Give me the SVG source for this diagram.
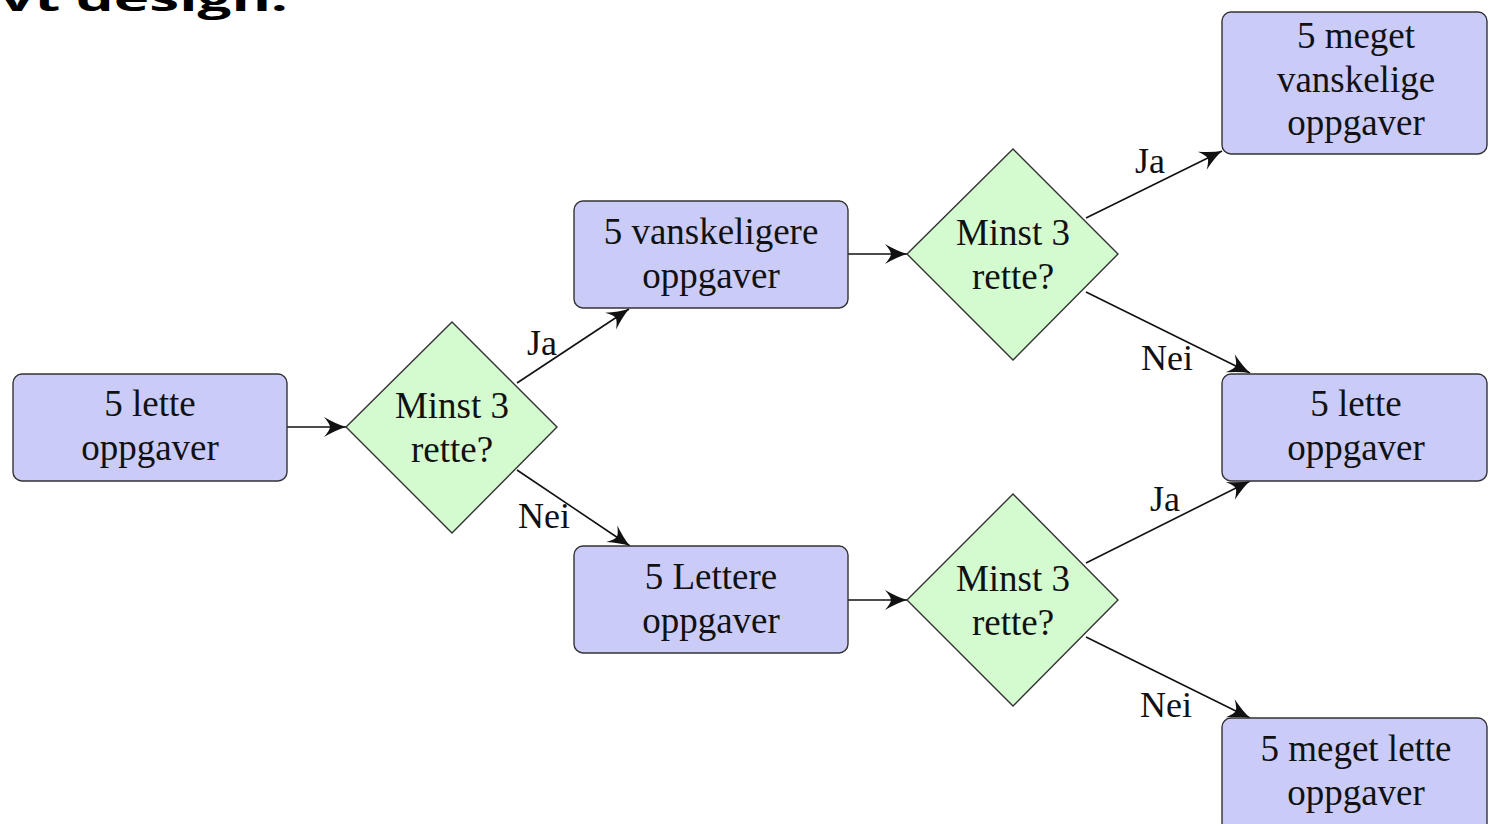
<svg xmlns="http://www.w3.org/2000/svg" width="1488" height="824" viewBox="0 0 1488 824">
<style>
.box{fill:#cbcbf8;stroke:#333;stroke-width:1.4}
.dia{fill:#d4fad0;stroke:#333;stroke-width:1.4}
.t{font-family:"Liberation Serif","Times New Roman",serif;font-size:37px;fill:#111;text-anchor:middle}
.lbl{font-family:"Liberation Serif","Times New Roman",serif;font-size:36px;fill:#111}
.edge{fill:none;stroke:#111;stroke-width:1.6;marker-end:url(#arr)}
.title{font-family:"Open Sans","Liberation Sans",sans-serif;font-weight:700;fill:#000}
</style>
<defs>
<marker id="arr" viewBox="-23 -11 25 22" refX="0" refY="0" markerWidth="25" markerHeight="22" markerUnits="userSpaceOnUse" orient="auto">
<path d="M0,0 Q-10,-3 -22,-10 Q-16,-3 -16,0 Q-16,3 -22,10 Q-10,3 0,0 Z" fill="#111"/>
</marker>
</defs>
<rect width="1488" height="824" fill="#fff"/>
<text class="title" x="0" y="11" font-size="36" textLength="288" lengthAdjust="spacingAndGlyphs">vt design.</text>

<g id="connectors">
<path class="edge" d="M287,427 L346,427"/>
<path class="edge" d="M517,383 L629,309"/>
<path class="edge" d="M517,470 L630,546"/>
<path class="edge" d="M848,254 L907,254"/>
<path class="edge" d="M848,600 L907,600"/>
<path class="edge" d="M1086,218 L1222,151"/>
<path class="edge" d="M1086,292 L1250,373"/>
<path class="edge" d="M1086,563 L1250,481"/>
<path class="edge" d="M1086,637 L1250,718"/>
<text class="lbl" x="527" y="355">Ja</text>
<text class="lbl" x="518" y="528">Nei</text>
<text class="lbl" x="1135" y="173">Ja</text>
<text class="lbl" x="1141" y="370">Nei</text>
<text class="lbl" x="1150" y="511">Ja</text>
<text class="lbl" x="1140" y="717">Nei</text>
</g>

<g id="start">
<rect class="box" x="13" y="374" width="274" height="107" rx="9"/>
<text class="t" x="150" y="416">5 lette</text>
<text class="t" x="150" y="460">oppgaver</text>
</g>
<g id="q1">
<polygon class="dia" points="452,322 557,427 452,533 346,427"/>
<text class="t" x="452" y="418">Minst 3</text>
<text class="t" x="452" y="462">rette?</text>
</g>
<g id="harder">
<rect class="box" x="574" y="201" width="274" height="107" rx="9"/>
<text class="t" x="711" y="244">5 vanskeligere</text>
<text class="t" x="711" y="288">oppgaver</text>
</g>
<g id="easier">
<rect class="box" x="574" y="546" width="274" height="107" rx="9"/>
<text class="t" x="711" y="589">5 Lettere</text>
<text class="t" x="711" y="633">oppgaver</text>
</g>
<g id="q2">
<polygon class="dia" points="1013,149 1118,254 1013,360 907,254"/>
<text class="t" x="1013" y="245">Minst 3</text>
<text class="t" x="1013" y="289">rette?</text>
</g>
<g id="q3">
<polygon class="dia" points="1013,494 1118,600 1013,706 907,600"/>
<text class="t" x="1013" y="591">Minst 3</text>
<text class="t" x="1013" y="635">rette?</text>
</g>
<g id="veryhard">
<rect class="box" x="1222" y="12" width="265" height="142" rx="9"/>
<text class="t" x="1356" y="48">5 meget</text>
<text class="t" x="1356" y="92">vanskelige</text>
<text class="t" x="1356" y="135">oppgaver</text>
</g>
<g id="easy2">
<rect class="box" x="1222" y="374" width="265" height="107" rx="9"/>
<text class="t" x="1356" y="416">5 lette</text>
<text class="t" x="1356" y="460">oppgaver</text>
</g>
<g id="veryeasy">
<rect class="box" x="1222" y="718" width="265" height="114" rx="9"/>
<text class="t" x="1356" y="761">5 meget lette</text>
<text class="t" x="1356" y="805">oppgaver</text>
</g>
</svg>
